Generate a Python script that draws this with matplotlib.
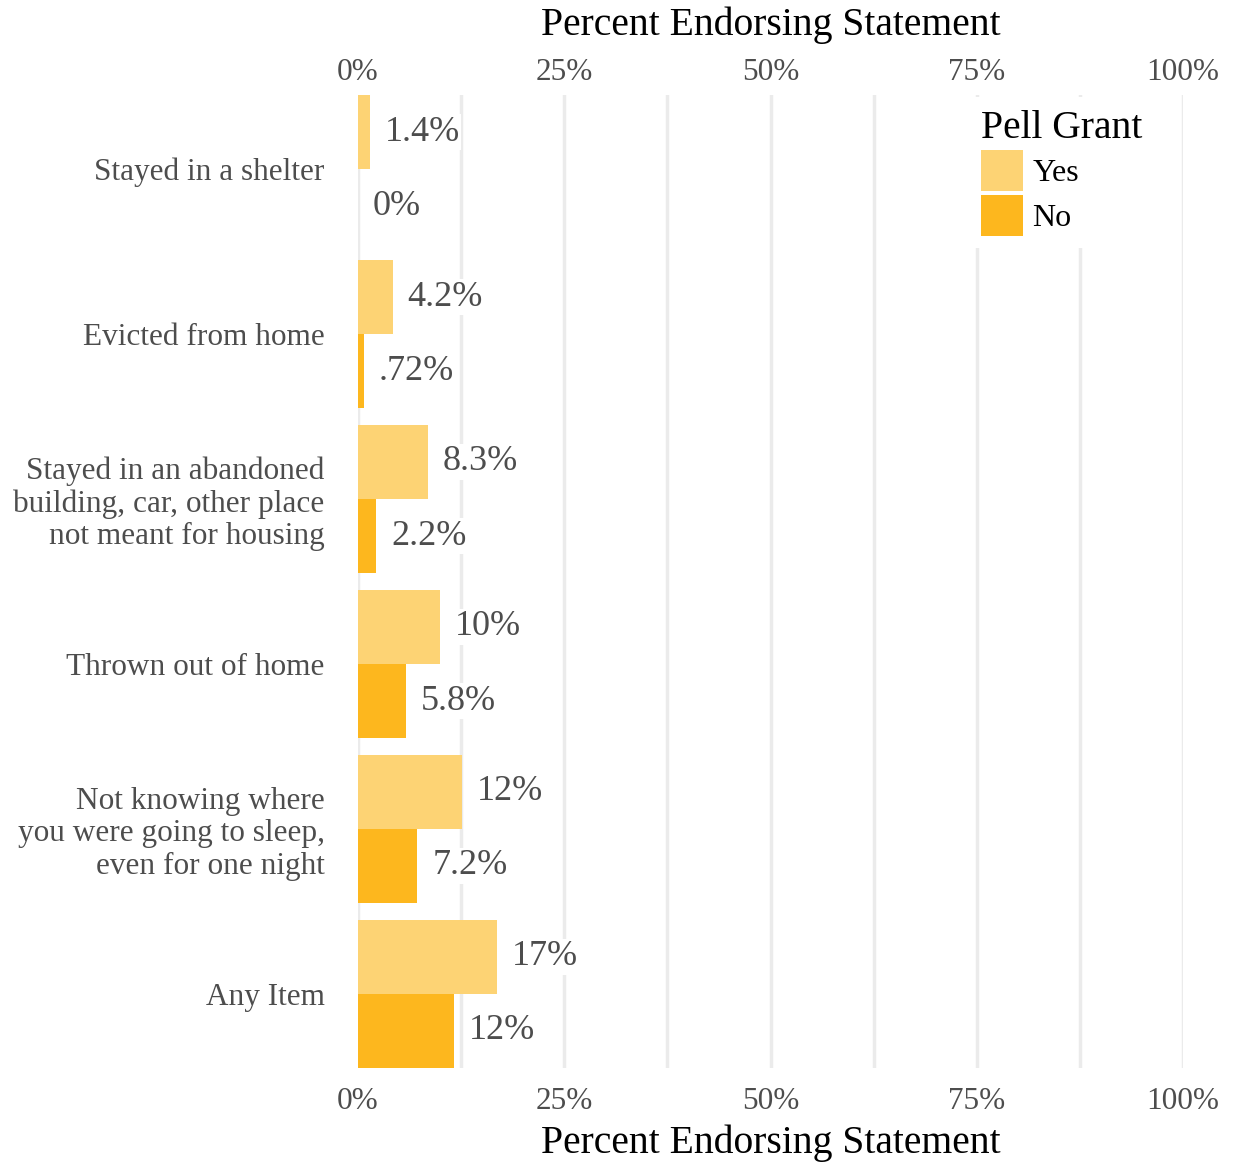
import matplotlib
matplotlib.use("Agg")
import matplotlib.pyplot as plt
import numpy as np
from matplotlib.patches import Patch

categories = ["Stayed in a shelter", "Evicted from home",
              "Stayed in an abandoned\nbuilding, car, other place\nnot meant for housing",
              "Thrown out of home",
              "Not knowing where\nyou were going to sleep,\neven for one night",
              "Any Item"]
yes_vals = [1.4, 4.2, 8.5, 9.9, 12.6, 16.8]
no_vals = [0.0, 0.72, 2.2, 5.8, 7.2, 11.6]
yes_labels = ["1.4%", "4.2%", "8.3%", "10%", "12%", "17%"]
no_labels = ["0%", ".72%", "2.2%", "5.8%", "7.2%", "12%"]
ticks = [0, 25, 50, 75, 100]
tick_labels = ["0%", "25%", "50%", "75%", "100%"]

plt.rcParams['font.family'] = ['Liberation Serif', 'DejaVu Serif']

YES_C = "#FDD374"
NO_C = "#FDB71E"
GRAY = "#4d4d4d"

W, H = 1236, 1167
fig = plt.figure(figsize=(W/100, H/100), dpi=100)
ax = fig.add_axes([358/W, 1-1068/H, 825/W, 973/H])

y = np.arange(len(categories))
h = 0.45
ax.barh(y - h/2, yes_vals, height=h, color=YES_C, zorder=2)
ax.barh(y + h/2, no_vals, height=h, color=NO_C, zorder=2)

for i in range(len(categories)):
    ax.text(yes_vals[i] + 1.8, y[i] - h/2, yes_labels[i], va='center', ha='left',
            fontsize=26, color=GRAY, zorder=3,
            bbox=dict(facecolor='white', edgecolor='none', pad=1))
    ax.text(no_vals[i] + 1.8, y[i] + h/2, no_labels[i], va='center', ha='left',
            fontsize=26, color=GRAY, zorder=3,
            bbox=dict(facecolor='white', edgecolor='none', pad=1))

ax.set_xlim(0, 100)
ax.set_ylim(5.45, -0.45)
for xv in np.arange(0, 100.1, 12.5):
    ax.axvline(xv, color="#ebebeb", lw=2.5, zorder=1)

ax.set_yticks(y)
ax.set_yticklabels(categories, fontsize=22.5, color=GRAY, linespacing=1.14)
ax.tick_params(axis='y', length=0, pad=24)
ax.set_xticks(ticks)
ax.set_xticklabels(tick_labels, fontsize=22.5, color=GRAY)
ax.tick_params(axis='x', length=0, pad=14)

sec = ax.secondary_xaxis('top')
sec.set_xticks(ticks)
sec.set_xticklabels(tick_labels, fontsize=22.5, color=GRAY)
sec.tick_params(axis='x', length=0, pad=6)
for s in sec.spines.values():
    s.set_visible(False)
for s in ax.spines.values():
    s.set_visible(False)

fig.text(770.5/W, 1-25/H, "Percent Endorsing Statement", fontsize=28.5,
         ha='center', va='center', color='black')
fig.text(770.5/W, 1-1143/H, "Percent Endorsing Statement", fontsize=28.5,
         ha='center', va='center', color='black')

handles = [Patch(facecolor=YES_C, edgecolor='none', label='Yes'),
           Patch(facecolor=NO_C, edgecolor='none', label='No')]
leg = ax.legend(handles=handles, title="Pell Grant", loc='upper right',
                bbox_to_anchor=(0.986, 1.014), fontsize=23, title_fontsize=28.5,
                frameon=True, handlelength=1.3, handleheight=1.6,
                handletextpad=0.3, labelspacing=0.1, borderpad=0.4)
leg.get_frame().set_facecolor('white')
leg.get_frame().set_edgecolor('none')
leg.get_frame().set_alpha(1)
leg._legend_box.align = "left"
leg.set_zorder(5)

fig.savefig("out.png", dpi=100, facecolor='white')
